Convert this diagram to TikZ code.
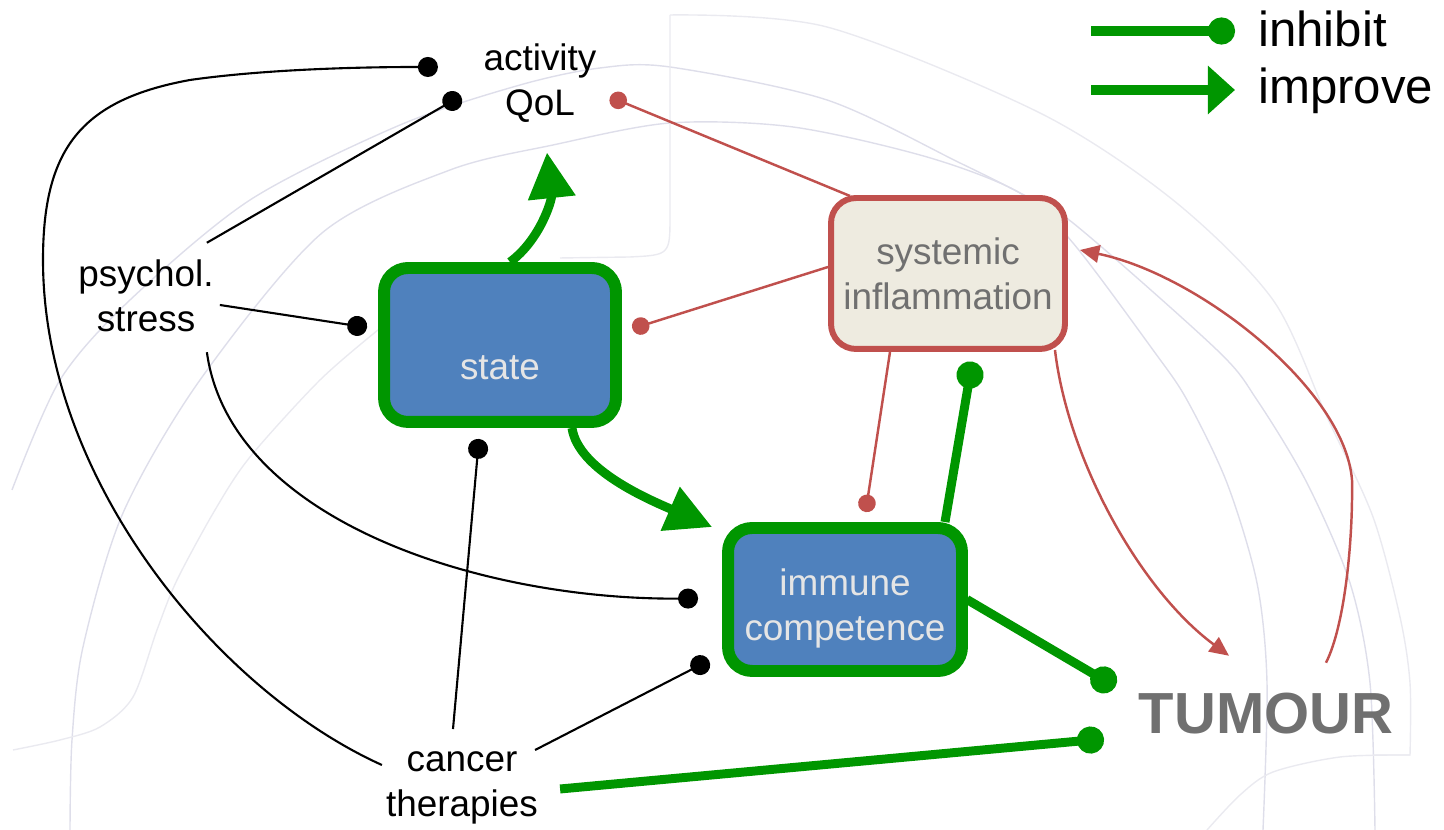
\documentclass[tikz,border=0pt]{standalone}
\usepackage{fontspec}
\setmainfont{Liberation Sans}
\usetikzlibrary{arrows.meta}

\definecolor{gogreen}{RGB}{0,150,0}
\definecolor{stateblue}{HTML}{4F81BD}
\definecolor{inflred}{HTML}{C0504D}
\definecolor{inflfill}{HTML}{EEEBE0}
\definecolor{labelgray}{HTML}{707070}
\definecolor{wmark}{HTML}{DEDEEA}
\definecolor{wmarklight}{HTML}{EAEAF0}

\tikzset{
  txt/.style={align=center,font=\fontsize{21}{25.6}\selectfont},
  legtxt/.style={inner sep=0pt,font=\fontsize{28}{34}\selectfont},
  greenbox/.style={draw=gogreen,line width=6.8pt,fill=stateblue,rounded corners=0.48cm,inner sep=0pt},
  boxtext/.style={txt,text=white!90!black},
  inflbox/.style={draw=inflred,line width=3.4pt,fill=inflfill,rounded corners=0.5cm,txt,text=labelgray},
  blk/.style={line width=1.2pt,-{Circle[length=11.4pt]}},
  redinh/.style={inflred,line width=1.4pt,-{Circle[length=10pt]}},
  redimp/.style={inflred,line width=1.4pt,-{Triangle[length=11pt,width=10pt]}},
  greeninh/.style={gogreen,line width=5.1pt,-{Circle[length=15.4pt]}},
  greenimp/.style={gogreen,line width=5.1pt,-{Triangle[length=26pt,width=26pt]}},
  leginh/.style={gogreen,line width=5.7pt,-{Circle[length=15.4pt]}},
  legimp/.style={gogreen,line width=5.7pt,-{Triangle[length=15.4pt,width=26.7pt]}},
  wline/.style={wmark,line width=0.8pt},
  wlinelight/.style={wmarklight,line width=0.8pt}
}

\begin{document}
\begin{tikzpicture}[x=0.02cm,y=0.02cm]
  \useasboundingbox (0,0) rectangle (1444,830);

  \draw[wline] plot[smooth] coordinates {(12,340) (60,450) (130,530) (250,630) (400,705) (520,745) (600,762) (670,763) (827,730) (960,667) (1020,637) (1073,607) (1217,480) (1257,430) (1307,347) (1350,247) (1370,147) (1375,0)};
  \draw[wline] plot[smooth] coordinates {(70,0) (72,90) (83,183) (123,317) (200,450) (322,597) (450,660) (553,685) (670,707) (793,703) (927,673) (1020,637) (1073,587) (1153,480) (1187,430) (1227,347) (1257,247) (1267,147) (1263,0)};
  \draw[wlinelight] (560,572) -- (630,573) .. controls (670,575) .. (670,615) -- (670,815);
  \draw[wlinelight] plot[smooth] coordinates {(670,815) (827,803) (1040,717) (1173,630) (1273,530) (1327,413) (1373,313) (1400,213) (1410,147) (1410,75)} -- (1373,75);
  \draw[wlinelight] plot[smooth] coordinates {(1207,0) (1240,35) (1273,58) (1340,73) (1410,75)};
  \draw[wlinelight] plot[smooth] coordinates {(13,80) (60,90) (100,103) (133,133) (157,200) (177,250) (215,320) (250,373) (320,450) (378,500)};

  \node[txt] (act) at (540,747) {activity\\QoL};
  \node[txt] (psych) at (146,534) {psychol.\\stress};
  \node[txt] (cancer) at (462,42.5) {cancer\\therapies};
  \node[font=\fontsize{33}{40}\bfseries\selectfont,text=labelgray] (tumour) at (1266,116.5) {TUMOUR};
  \node[greenbox,minimum width=4.64cm,minimum height=3.08cm,label={[boxtext,yshift=-0.45cm]center:state}] (state) at (500,485) {};
  \node[greenbox,minimum width=4.68cm,minimum height=2.86cm,label={[boxtext,yshift=-0.18cm]center:{immune\\competence}}] (immune) at (845,230.5) {};
  \node[inflbox,minimum width=4.68cm,minimum height=3.02cm] (infl) at (948,556.5) {systemic\\inflammation};

  \node[legtxt,anchor=base west] (inh) at (1258,783) {inhibit};
  \node[legtxt,anchor=base west] (imp) at (1258,726) {improve};
  \draw[leginh] ([shift={(-167,16)}]inh.base west) -- ([shift={(-23,16)}]inh.base west);
  \draw[legimp] ([shift={(-167,14)}]imp.base west) -- ([shift={(-23,14)}]imp.base west);

  \draw[blk] ([shift={(2,22.5)}]cancer.west) .. controls (218,139) and (43,350) .. (43,570) .. controls (43,680) and (80,730) .. (190,750) .. controls (260,760) and (350,763) .. ([shift={(-39.5,16)}]act.west);
  \draw[blk] ([shift={(-13,11)}]psych.north east) -- ([shift={(-16.5,-13)}]act.west);
  \draw[blk] ([shift={(0,-9)}]psych.east) -- ([shift={(-11,17.5)}]state.west);
  \draw[blk] ([shift={(-13,-14)}]psych.south east) .. controls (230,310) and (480,230) .. ([shift={(-24,1)}]immune.west);
  \draw[blk] ([shift={(-9,16)}]cancer.north) -- ([shift={(-21,-11)}]state.south);
  \draw[blk] ([shift={(-9,37.5)}]cancer.east) -- ([shift={(-13,-61)}]immune.west);

  \draw[redinh] ([shift={(22,-1)}]infl.north west) -- ([shift={(7.5,-14)}]act.east);
  \draw[redinh] ([shift={(0,6.5)}]infl.west) -- ([shift={(10.4,16.3)}]state.east);
  \draw[redinh] ([shift={(-58,0)}]infl.south) -- ([shift={(20.6,10)}]immune.north);
  \draw[redimp] ([shift={(-13,2)}]infl.south east) .. controls (1068,370) and (1140,240) .. ([shift={(-37,31)}]tumour.north);
  \draw[redimp] ([shift={(60,24)}]tumour.north) .. controls (1345,205) and (1353,290) .. (1352,350) .. controls (1345,440) and (1200,555) .. ([shift={(12,23.5)}]infl.east);

  \draw[greenimp] ([shift={(10,0)}]state.north) .. controls (540,590) and (552,630) .. ([shift={(7,-24)}]act.south);
  \draw[greenimp] ([shift={(72,0)}]state.south) .. controls (578,360) and (650,330) .. ([shift={(-10,-5)}]immune.north west);
  \draw[greeninh] ([shift={(100,0)}]immune.north) -- ([shift={(24.3,-9.7)}]infl.south);
  \draw[greeninh] ([shift={(-1,0)}]immune.east) -- ([shift={(-17.3,26.7)}]tumour.west);
  \draw[greeninh] ([shift={(16,-1.5)}]cancer.east) -- ([shift={(-28.6,-25.3)}]tumour.west);
\end{tikzpicture}
\end{document}
